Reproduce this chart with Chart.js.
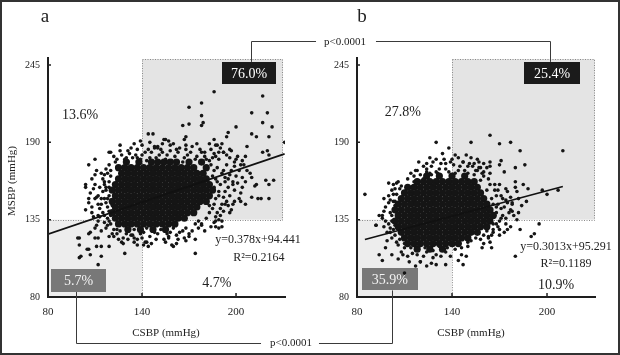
<!DOCTYPE html>
<html><head><meta charset="utf-8">
<script src="https://cdn.jsdelivr.net/npm/chart.js@4.4.0/dist/chart.umd.min.js"></script>
<style>
html,body{margin:0;padding:0;background:#fff;}
#wrap{position:relative;width:620px;height:355px;overflow:hidden;background:#fff;}
#frame{position:absolute;left:0;top:0;width:620px;height:355px;box-sizing:border-box;border:2px solid #333;pointer-events:none;}
canvas{position:absolute;left:0;top:0;}
</style></head><body>
<div id="wrap">
<canvas id="ca" width="620" height="355"></canvas>
<canvas id="cb" width="620" height="355"></canvas>
<div id="frame"></div>
</div>
<script>
const SERIF = '"Liberation Serif","Times New Roman",serif';

// ---- data ----
const xTicks = [80, 140, 200];
const yTicks = [80, 135, 190, 245];
const panelTitles = ['a', 'b'];
const xTitle = 'CSBP (mmHg)';
const yTitle = 'MSBP (mmHg)';
const pValueText = 'p<0.0001';
const cutX = 140, cutY = 135;
// quadrant percentages: upper-left, upper-right, lower-left, lower-right
const aPercents = ['13.6%', '76.0%', '5.7%', '4.7%'];
const bPercents = ['27.8%', '25.4%', '35.9%', '10.9%'];
const aEquation = ['y=0.378x+94.441', 'R²=0.2164'];
const bEquation = ['y=0.3013x+95.291', 'R²=0.1189'];
const aFitLine = [[80,124.7],[231,181.8]];
const bFitLine = [[85,120.9],[210,158.6]];

// dense centre of panel a (CSBP, MSBP)
const aCore = [
[130,176],[138,176],[146,176],[150,176],[154,176],[158,176],[162,176],[170,176],[178,176],
[125,172],[129,172],[133,172],[137,172],[141,172],[145,172],[149,172],[153,172],[157,172],[161,172],[165,172],[169,172],[173,172],[181,172],
[127,168],[131,168],[135,168],[139,168],[143,168],[147,168],[151,168],[155,168],[159,168],[163,168],[167,168],[171,168],[175,168],[179,168],
[125,164],[129,164],[133,164],[137,164],[141,164],[145,164],[149,164],[153,164],[157,164],[161,164],[165,164],[169,164],[173,164],[177,164],[181,164],
[123,160],[127,160],[131,160],[135,160],[139,160],[143,160],[147,160],[151,160],[155,160],[159,160],[163,160],[167,160],[171,160],[175,160],[179,160],[183,160],
[121,156],[125,156],[129,156],[133,156],[137,156],[141,156],[145,156],[149,156],[153,156],[157,156],[161,156],[165,156],[169,156],[173,156],[177,156],[181,156],[185,156],
[123,152],[127,152],[131,152],[135,152],[139,152],[143,152],[147,152],[151,152],[155,152],[159,152],[163,152],[167,152],[171,152],[175,152],[179,152],[183,152],
[121,148],[125,148],[129,148],[133,148],[137,148],[141,148],[145,148],[149,148],[153,148],[157,148],[161,148],[165,148],[169,148],[173,148],[177,148],[181,148],
[123,144],[127,144],[131,144],[135,144],[139,144],[143,144],[147,144],[151,144],[155,144],[159,144],[163,144],[167,144],[171,144],[175,144],
[121,140],[125,140],[129,140],[133,140],[137,140],[141,140],[145,140],[149,140],[153,140],[157,140],[161,140],[165,140],[169,140],[173,140],
[123,136],[127,136],[131,136],[135,136],[139,136],[143,136],[147,136],[151,136],[155,136],[159,136],[163,136],[167,136],
[125,132],[129,132],[133,132],[137,132],[141,132],[145,132],[149,132],[153,132],[157,132],[161,132],
[131,128],[139,128],[147,128],[155,128]
];
// scattered points of panel a
const aPoints = [
[122,180],[126,184],[129,178],[133,186],[136,181],[139,178],[142,183],[145,179],[148,186],[151,181],[155,178],[158,184],[161,180],[164,186],[167,179],[171,183],[174,178],[177,185],[180,180],[183,177],[186,182],[189,178],[192,183],[196,179],[199,176],[203,174],
[188,172],[191,168],[194,174],[187,164],[190,160],[193,165],[197,170],[200,166],[189,155],[192,151],[195,158],[198,162],[202,170],[186,146],[190,143],[194,148],[183,140],[187,137],[191,134],[181,136],[178,132],[184,130],
[118,168],[115,164],[119,162],[113,158],[117,156],[116,150],[112,152],[114,146],[118,144],[115,140],[118,136],[120,132],[122,128],[116,133],[110,150],[108,144],[112,138],[107,154],[120,170],[123,176],
[124,125],[128,122],[133,124],[137,121],[141,126],[145,123],[150,125],[154,121],[158,126],[162,124],[166,127],[170,125],[135,119],[146,118],[127,119],
[124,178],[127,181],[131,184],[134,179],[137,185],[140,181],[143,177],[146,183],[149,179],[152,185],[156,181],[159,177],[163,183],[166,176],[169,181],[172,187],[175,180],[178,183],[181,178],[184,185],[187,180],[190,186],[194,181],[197,184],[201,180],[204,177],[135,189],[145,190],[160,189],[175,189],[183,189],[191,189],[126,188],[139,191],[153,189],
[184,174],[186,170],[185,166],[188,162],[186,158],[189,152],[187,150],[185,143],[188,140],[191,146],[193,155],[196,152],[195,145],[199,156],[201,161],[204,165],[207,170],[199,173],[192,170],[196,167],[190,138],[186,133],[183,145],[193,162],[205,174],[209,168],[202,150],[206,146],
[119,174],[117,171],[114,168],[120,166],[116,160],[119,158],[115,155],[119,152],[114,150],[117,147],[113,143],[119,141],[116,138],[112,134],[119,134],[117,129],[121,125],[110,160],[108,164],[111,170],[106,150],[109,137],[104,142],[111,131],[114,127],[120,138],[121,145],[118,150],
[126,127],[130,125],[135,128],[139,125],[143,129],[148,126],[152,128],[156,125],[160,129],[164,126],[168,129],[172,127],[176,129],[180,127],[131,121],[140,122],[149,121],[155,119],[162,118],[168,120],[125,121],[143,119],
[186,226],[217,223],[170,215],[178,218],[178,209],[179,204],[178,202],[166,202],[170,203],[210,211],[220,211],[217,204],[223,201],[200,201],[210,196],[213,194],[221,194],[231,190],[144,196],[147,196],[168,194],[195,197],[194,194],[186,192],[187,188],[188,188],[207,187],[217,183],[220,184],[206,180],[221,181],[140,188],[106,174],[110,178],[120,183],[110,167],[116,167],[154,192],[157,191],[150,187],[148,187],[200,178],[196,185],[192,183],[189,183],[185,179],[180,183],[167,192],[168,188],[168,185],[158,188],[162,185],[155,192],[206,162],[210,165],[213,160],[219,163],[221,160],[224,163],[198,160],[204,158],[195,164],[119,183],[116,162],[117,158],[123,160],[104,158],[130,179],[132,182],[131,176],[137,179],[144,185],[150,186],[153,183],
[203,154],[210,151],[214,150],[221,150],[199,148],[203,148],[197,142],[193,146],[192,141],[187,130],[189,129],[178,131],[174,132],[167,122],[170,123],[163,121],[174,121],[157,122],[159,117],[174,111],[187,134],
[100,122],[100,117],[101,109],[106,125],[105,114],[107,110],[110,122],[111,116],[112,122],[114,116],[114,109],[112,103],[119,116],[119,123],[128,118],[129,111],[110,129],[112,146],[104,160],[137,117],[142,119],[144,116],[135,122],[134,124],[122,123],[124,128],[118,131],[157,123],
[109,157],[111,151],[106,147],[108,140],[113,137],[99,122],[100,108],[106,114],[107,126],[160,116],[141,117],[212,159],[216,150],[198,146],[196,140],[189,135],[191,130],[176,134]
];

// dense centre of panel b
const bCore = [
[124,166],[132,166],[140,166],[148,166],
[118,162],[122,162],[126,162],[130,162],[134,162],[138,162],[142,162],[146,162],[150,162],[154,162],
[112,158],[116,158],[120,158],[124,158],[128,158],[132,158],[136,158],[140,158],[144,158],[148,158],[152,158],[156,158],
[110,154],[114,154],[118,154],[122,154],[126,154],[130,154],[134,154],[138,154],[142,154],[146,154],[150,154],[154,154],[158,154],
[108,150],[112,150],[116,150],[120,150],[124,150],[128,150],[132,150],[136,150],[140,150],[144,150],[148,150],[152,150],[156,150],[160,150],
[106,146],[110,146],[114,146],[118,146],[122,146],[126,146],[130,146],[134,146],[138,146],[142,146],[146,146],[150,146],[154,146],[158,146],[162,146],
[104,142],[108,142],[112,142],[116,142],[120,142],[124,142],[128,142],[132,142],[136,142],[140,142],[144,142],[148,142],[152,142],[156,142],[160,142],[164,142],
[106,138],[110,138],[114,138],[118,138],[122,138],[126,138],[130,138],[134,138],[138,138],[142,138],[146,138],[150,138],[154,138],[158,138],[162,138],[166,138],
[104,134],[108,134],[112,134],[116,134],[120,134],[124,134],[128,134],[132,134],[136,134],[140,134],[144,134],[148,134],[152,134],[156,134],[160,134],[164,134],
[106,130],[110,130],[114,130],[118,130],[122,130],[126,130],[130,130],[134,130],[138,130],[142,130],[146,130],[150,130],[154,130],[158,130],[162,130],
[108,126],[112,126],[116,126],[120,126],[124,126],[128,126],[132,126],[136,126],[140,126],[144,126],[148,126],[152,126],[156,126],
[110,122],[114,122],[118,122],[122,122],[126,122],[130,122],[134,122],[138,122],[142,122],[146,122],[150,122],
[112,118],[116,118],[120,118],[124,118],[128,118],[132,118],[136,118],[140,118],[144,118],
[118,114],[126,114],[134,114]
];
// scattered points of panel b
const bPoints = [
[118,170],[122,173],[126,168],[128,176],[132,171],[135,178],[138,169],[141,174],[144,170],[147,176],[150,168],[153,173],[156,170],[116,166],[160,166],[158,163],
[100,152],[103,148],[98,144],[101,140],[96,136],[100,132],[103,128],[99,126],[102,122],[104,157],[106,162],[97,130],[94,138],[92,131],
[164,160],[167,156],[165,150],[169,146],[172,150],[168,140],[171,136],[166,132],[170,128],[174,132],[176,140],[173,144],[162,156],[166,126],[178,146],[175,155],[163,122],
[108,112],[112,109],[118,110],[124,112],[130,110],[136,112],[142,114],[146,110],[120,105],[128,108],[150,116],[152,120],
[114,168],[120,167],[124,171],[127,173],[130,169],[133,175],[136,171],[139,176],[142,168],[145,173],[148,170],[151,175],[154,167],[157,172],[160,169],[119,176],[126,179],[134,182],[144,179],[149,181],[156,178],[162,172],[112,164],[116,162],
[102,156],[105,153],[101,149],[104,145],[100,147],[102,138],[98,134],[102,134],[104,131],[101,126],[104,124],[105,119],[99,120],[106,117],[97,150],[103,160],[108,159],[107,121],
[166,146],[168,144],[167,138],[170,134],[165,136],[169,130],[172,138],[175,147],[171,152],[167,160],[163,164],[170,160],[177,151],[179,138],[174,136],[173,126],[177,130],[165,124],[160,124],[162,127],[184,145],[181,155],[185,160],
[110,118],[114,115],[119,116],[123,115],[128,113],[132,116],[137,115],[141,117],[146,115],[150,119],[155,122],[158,121],[115,111],[122,109],[133,109],[139,109],[144,106],[127,104],[113,105],[117,102],
[130,190],[152,190],[138,186],[85,153],[100,161],[105,161],[103,153],[104,148],[107,157],[117,170],[124,175],[124,169],[118,163],[130,178],[131,168],[136,175],[142,181],[140,178],[147,176],[150,173],[152,179],[154,175],[155,170],[122,164],[110,155],[114,153],[127,167],[129,160],[112,149],[97,141],[105,142],
[164,195],[170,189],[177,190],[183,184],[210,184],[157,176],[160,175],[164,176],[171,177],[170,174],[164,173],[164,168],[173,169],[180,172],[186,174],[158,172],[159,168],[180,162],[180,158],[174,157],[188,157],[169,156],[168,152],[174,149],[197,156],[200,153],[207,156],[182,150],[187,148],[178,147],[171,143],[177,142],[182,140],[163,143],
[183,128],[192,125],[190,123],[195,132],[180,109],[175,128],[166,128],[170,124],[164,119],[165,115],[160,118],[159,115],[163,123],[178,141],[181,135],[168,132],
[92,131],[96,138],[101,129],[94,110],[96,106],[102,110],[98,115],[106,107],[109,110],[110,97],[120,105],[124,102],[130,103],[136,103],[147,103],[149,109],[110,115]
];

// ---- layout / style ----
const PANEL_A = {
  title: panelTitles[0], titlePos: [45, 17], showYTitle: true,
  pad: {left: 18, top: 58, right: 335, bottom: 28}, xMax: 231.25, yMax: 250,
  core: aCore, points: aPoints, fit: aFitLine, pct: aPercents, eq: aEquation,
  ulPos: [100.4, 209.5], urBox: [208.3, 239.4, 54, 22], llBox: [99.5, 91.7, 55, 23], lrPos: [187.8, 90],
  eqPos: [214, 120.6], r2Pos: [214.6, 107.8], xTitleX: 155.3, boxRight: 230, boxTop: 249.3
};
const PANEL_B = {
  title: panelTitles[1], titlePos: [362, 17], showYTitle: false,
  pad: {left: 327, top: 58, right: 25, bottom: 28}, xMax: 230.3, yMax: 250,
  core: bCore, points: bPoints, fit: bFitLine, pct: bPercents, eq: bEquation,
  ulPos: [109, 211.7], urBox: [203.2, 239.4, 56, 22], llBox: [100.8, 92.5, 56, 22], lrPos: [205.7, 88.5],
  eqPos: [212, 115.6], r2Pos: [212, 103.5], xTitleX: 152, boxRight: 230.3, boxTop: 249.3
};

function panelPlugin(P) {
  return {
    id: 'panelDeco',
    beforeDatasetsDraw(ch) {
      const c = ch.ctx, X = v => ch.scales.x.getPixelForValue(v), Y = v => ch.scales.y.getPixelForValue(v);
      c.save();
      // shaded quadrants
      const x0 = X(80), xc = X(cutX), xr = X(P.boxRight), y0 = Y(80), yc = Y(cutY), yt = Y(P.boxTop);
      c.fillStyle = '#ededed';
      c.fillRect(x0, yc, xc - x0, y0 - yc);
      c.fillStyle = '#e4e4e4';
      c.fillRect(xc, yt, xr - xc, yc - yt);
      c.setLineDash([1, 1.5]);
      c.strokeStyle = '#8a8a8a'; c.lineWidth = 1;
      c.strokeRect(Math.round(xc) + 0.5, Math.round(yt) + 0.5, Math.round(xr - xc) - 1, Math.round(yc - yt));
      c.beginPath();
      c.moveTo(x0, Math.round(yc) + 0.5); c.lineTo(xc, Math.round(yc) + 0.5);
      c.moveTo(Math.round(xc) + 0.5, yc); c.lineTo(Math.round(xc) + 0.5, y0);
      c.stroke();
      c.setLineDash([]);
      // tag boxes
      const tag = (b, txt, fill, col) => {
        const cx = X(b[0]), cy = Y(b[1]);
        c.fillStyle = fill;
        c.fillRect(Math.round(cx - b[2] / 2), Math.round(cy - b[3] / 2), b[2], b[3]);
        c.fillStyle = col; c.font = '14px ' + SERIF; c.textAlign = 'center'; c.textBaseline = 'middle';
        c.fillText(txt, cx, cy + 1);
      };
      tag(P.urBox, P.pct[1], '#1b1b1b', '#ffffff');
      tag(P.llBox, P.pct[2], '#787878', '#f2f2f2');
      // plain texts
      c.fillStyle = '#222'; c.textAlign = 'center'; c.textBaseline = 'middle';
      c.font = '14px ' + SERIF;
      c.fillText(P.pct[0], X(P.ulPos[0]), Y(P.ulPos[1]));
      c.fillText(P.pct[3], X(P.lrPos[0]), Y(P.lrPos[1]));
      c.font = '12px ' + SERIF;
      c.fillText(P.eq[0], X(P.eqPos[0]), Y(P.eqPos[1]));
      c.fillText(P.eq[1], X(P.r2Pos[0]), Y(P.r2Pos[1]));
      // panel letter
      c.font = '19px ' + SERIF;
      c.fillText(P.title, P.titlePos[0], P.titlePos[1]);
      // axis titles
      c.font = '11px ' + SERIF;
      c.fillText(xTitle, X(P.xTitleX), 333);
      if (P.showYTitle) {
        c.save(); c.translate(12, 181); c.rotate(-Math.PI / 2);
        c.fillText(yTitle, 0, 0); c.restore();
      }
      c.restore();
    },
    afterDraw(ch) {
      const c = ch.ctx, X = v => ch.scales.x.getPixelForValue(v), Y = v => ch.scales.y.getPixelForValue(v);
      c.save();
      c.strokeStyle = '#222'; c.lineWidth = 1.5;
      c.beginPath();
      xTicks.forEach(v => { if (v === 80) return; const x = X(v); c.moveTo(x, Y(80)); c.lineTo(x, Y(80) - 4); });
      yTicks.forEach(v => { if (v === 80) return; const y = Y(v); c.moveTo(X(80), y); c.lineTo(X(80) + 3, y); });
      c.stroke();
      c.restore();
    }
  };
}

function scaleCfg(P) {
  const common = {
    type: 'linear',
    grid: {display: false, drawTicks: false},
    border: {display: true, color: '#1e1e1e', width: 2, z: 1},
  };
  return {
    x: Object.assign({}, common, {
      min: 80, max: P.xMax,
      afterFit: s => { s.height = 30; },
      afterBuildTicks: s => { s.ticks = xTicks.map(v => ({value: v})); },
      ticks: {padding: 9, color: '#222', font: {family: SERIF, size: 11}, maxRotation: 0, autoSkip: false}
    }),
    y: Object.assign({}, common, {
      min: 80, max: P.yMax,
      afterFit: s => { s.width = 30; },
      afterBuildTicks: s => { s.ticks = yTicks.map(v => ({value: v})); },
      ticks: {padding: 8, color: '#222', font: {family: SERIF, size: 10}, autoSkip: false}
    })
  };
}

function makePanel(id, P, extraPlugins) {
  return new Chart(document.getElementById(id), {
    type: 'scatter',
    data: {
      datasets: [
        {type: 'line', data: P.fit, borderColor: '#111', borderWidth: 1.6, pointRadius: 0, fill: false, order: 0},
        {data: P.core, backgroundColor: '#151515', borderWidth: 0, pointRadius: 3.6, order: 2},
        {data: P.points, backgroundColor: '#151515', borderWidth: 0, pointRadius: 1.8, order: 1}
      ]
    },
    options: {
      responsive: false, animation: false, devicePixelRatio: 1,
      layout: {padding: P.pad},
      plugins: {legend: {display: false}, tooltip: {enabled: false}},
      events: [],
      scales: scaleCfg(P)
    },
    plugins: [panelPlugin(P)].concat(extraPlugins || [])
  });
}

const chartA = makePanel('ca', PANEL_A);

const bracketPlugin = {
  id: 'brackets',
  afterDraw(ch) {
    const c = ch.ctx;
    const A = chartA, B = ch;
    const ax = v => A.scales.x.getPixelForValue(v), ay = v => A.scales.y.getPixelForValue(v);
    const bx = v => B.scales.x.getPixelForValue(v), by = v => B.scales.y.getPixelForValue(v);
    c.save();
    c.strokeStyle = '#3a3a3a'; c.lineWidth = 1;
    c.font = '11px ' + SERIF; c.fillStyle = '#222'; c.textAlign = 'center'; c.textBaseline = 'middle';
    // top bracket (upper-right quadrants)
    const tA = Math.round(ax(PANEL_A.urBox[0])) + 2.5, tB = Math.round(bx(PANEL_B.urBox[0])) - 1.5;
    const tAy = ay(PANEL_A.urBox[1]) - PANEL_A.urBox[3] / 2, tBy = by(PANEL_B.urBox[1]) - PANEL_B.urBox[3] / 2;
    const topY = 41.5, topTx = 345;
    const wT = c.measureText(pValueText).width;
    c.beginPath();
    c.moveTo(tA, tAy); c.lineTo(tA, topY); c.lineTo(topTx - wT / 2 - 8, topY);
    c.moveTo(topTx + wT / 2 + 10, topY); c.lineTo(tB, topY); c.lineTo(tB, tBy);
    c.stroke();
    c.fillText(pValueText, topTx, 42.5);
    // bottom bracket (lower-left quadrants)
    const bA = Math.round(ax(PANEL_A.llBox[0])) - 2.5, bB = Math.round(bx(PANEL_B.llBox[0])) + 2.5;
    const bAy = ay(PANEL_A.llBox[1]) + PANEL_A.llBox[3] / 2, bBy = by(PANEL_B.llBox[1]) + PANEL_B.llBox[3] / 2;
    const botY = 343.5, botTx = 291;
    c.beginPath();
    c.moveTo(bA, bAy); c.lineTo(bA, botY); c.lineTo(botTx - wT / 2 - 9, botY);
    c.moveTo(botTx + wT / 2 + 7, botY); c.lineTo(bB, botY); c.lineTo(bB, bBy);
    c.stroke();
    c.fillText(pValueText, botTx, 343);
    c.restore();
  }
};

const chartB = makePanel('cb', PANEL_B, [bracketPlugin]);
</script>
</body></html>
